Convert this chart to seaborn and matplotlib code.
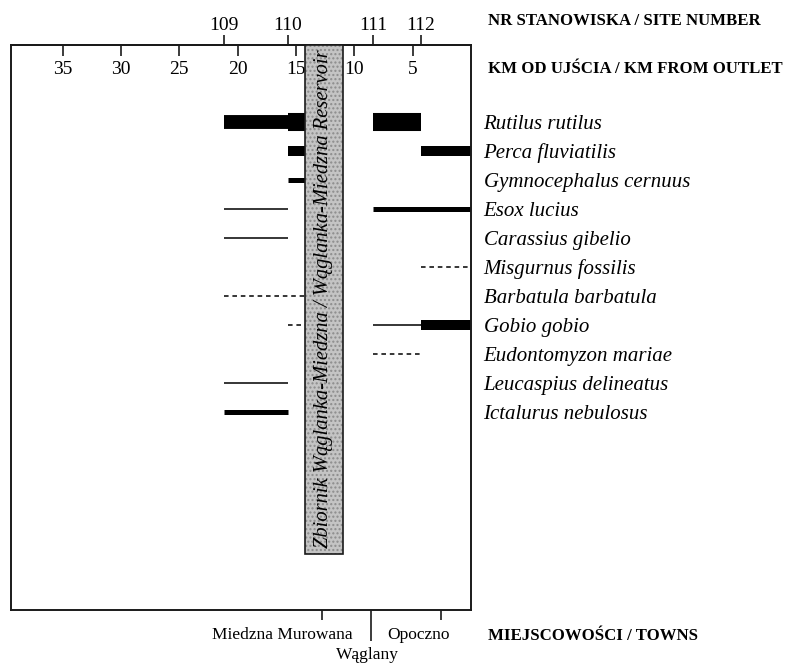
import pandas as pd
import matplotlib
matplotlib.use("Agg")
import matplotlib.pyplot as plt
import matplotlib.transforms as mtransforms
from matplotlib.patches import Rectangle
import seaborn as sns

# Fish species, listed top to bottom
species = ["Rutilus rutilus", "Perca fluviatilis", "Gymnocephalus cernuus",
           "Esox lucius", "Carassius gibelio", "Misgurnus fossilis",
           "Barbatula barbatula", "Gobio gobio", "Eudontomyzon mariae",
           "Leucaspius delineatus", "Ictalurus nebulosus"]

# River kilometre scale (distance from outlet)
km_ticks = [35, 30, 25, 20, 15, 10, 5]
km_range = (39.42, 0.0)

# Sampling sites and their river km
site_numbers = ["109", "110", "111", "112"]
site_km = [21.2, 15.7, 8.4, 4.3]

# Reservoir extent along the river (upstream edge, downstream edge)
reservoir_km = [14.26, 10.94]
reservoir_name = "Zbiornik Wąglanka-Miedzna / Wąglanka-Miedzna Reservoir"

# Towns along the river
towns = ["Miedzna Murowana", "Wąglany", "Opoczno"]
town_km = [12.8, 8.6, 2.6]

# Stretch end points: sites, reservoir dam edge, river outlet
stretch_points = {"109": 21.2, "110": 15.7, "res": 14.26,
                  "111": 8.4, "112": 4.3, "mouth": 0.0}

# Occurrence stretches: species, upstream point, downstream point, abundance class
seg_species = ["Rutilus rutilus", "Rutilus rutilus", "Rutilus rutilus",
               "Perca fluviatilis", "Perca fluviatilis",
               "Gymnocephalus cernuus",
               "Esox lucius", "Esox lucius",
               "Carassius gibelio",
               "Misgurnus fossilis",
               "Barbatula barbatula",
               "Gobio gobio", "Gobio gobio", "Gobio gobio",
               "Eudontomyzon mariae",
               "Leucaspius delineatus",
               "Ictalurus nebulosus"]
seg_from = ["109", "110", "111",
            "110", "112",
            "110",
            "109", "111",
            "109",
            "112",
            "109",
            "110", "111", "112",
            "111",
            "109",
            "109"]
seg_to = ["110", "res", "112",
          "res", "mouth",
          "res",
          "110", "mouth",
          "110",
          "mouth",
          "res",
          "res", "112", "mouth",
          "112",
          "110",
          "110"]
seg_class = ["common", "abundant", "abundant",
             "frequent", "frequent",
             "scarce",
             "rare", "scarce",
             "rare",
             "sporadic",
             "sporadic",
             "sporadic", "rare", "frequent",
             "sporadic",
             "rare",
             "scarce"]

# Line width (pt) and dash style for each abundance class
class_width = {"sporadic": 1.1, "rare": 1.1, "scarce": 3.6,
               "frequent": 7.2, "common": 10.0, "abundant": 13.0}
class_dash = {"sporadic": (3, 2.5), "rare": "", "scarce": "",
              "frequent": "", "common": "", "abundant": ""}

rows = []
for i, (sp, a, b, c) in enumerate(zip(seg_species, seg_from, seg_to, seg_class)):
    r = species.index(sp)
    rows.append({"seg": i, "km": stretch_points[a], "row": r, "cls": c})
    rows.append({"seg": i, "km": stretch_points[b], "row": r, "cls": c})
df = pd.DataFrame(rows)

sns.set_theme(style="white")
plt.rcParams["font.family"] = ["Liberation Serif", "DejaVu Serif"]
plt.rcParams["text.color"] = "black"
plt.rcParams["xtick.labelcolor"] = "black"
plt.rcParams["ytick.labelcolor"] = "black"

fig = plt.figure(figsize=(7.88, 6.63), dpi=100)
ax = fig.add_axes([11 / 788, 53 / 663, 460 / 788, 565 / 663])

sns.lineplot(data=df, x="km", y="row", units="seg", estimator=None, sort=False,
             size="cls", sizes=class_width, style="cls", dashes=class_dash,
             color="black", legend=False, ax=ax,
             solid_capstyle="butt", dash_capstyle="butt", zorder=2)

ax.set_xlim(*km_range)
ax.set_ylim(16.84, -2.645)
ax.set_xlabel("")
ax.set_ylabel("")

for s in ax.spines.values():
    s.set_visible(True)
    s.set_linewidth(1.4)
    s.set_color("#1a1a1a")

# km scale: ticks inside the top edge, labels below them
ax.set_xticks(km_ticks, labels=[str(k) for k in km_ticks])
ax.xaxis.set_ticks_position("top")
ax.tick_params(axis="x", direction="in", length=8, width=1.2, color="#1a1a1a",
               labelsize=14, labelcolor="black", pad=-24, top=True, bottom=False)

# species names on the right
ax.set_yticks(range(len(species)), labels=species)
ax.yaxis.tick_right()
ax.tick_params(axis="y", length=0, pad=9, labelsize=15, labelcolor="black")
for lab in ax.get_yticklabels():
    lab.set_fontstyle("italic")

# site numbers above the top edge
sec_site = ax.secondary_xaxis("top")
sec_site.set_xticks(site_km, labels=site_numbers)
sec_site.tick_params(direction="out", length=7.2, width=1.2, color="#1a1a1a",
                     labelsize=14, labelcolor="black", pad=1)
sec_site.spines["top"].set_linewidth(1.4)
sec_site.spines["top"].set_color("#1a1a1a")

# town ticks below the bottom edge
sec_town = ax.secondary_xaxis("bottom")
sec_town.set_xticks([town_km[0], town_km[2]], labels=["", ""])
sec_town.tick_params(direction="out", length=7.5, width=1.2, color="#1a1a1a")
sec_town.spines["bottom"].set_visible(False)
sec_town2 = ax.secondary_xaxis("bottom")
sec_town2.set_xticks([town_km[1]], labels=[""])
sec_town2.tick_params(direction="out", length=22, width=1.2, color="#1a1a1a")
sec_town2.spines["bottom"].set_visible(False)

trans = mtransforms.blended_transform_factory(ax.transData, ax.transAxes)
ax.text(16.15, -0.044, towns[0], transform=trans, ha="center", va="center",
        fontsize=12.5, clip_on=False)
ax.text(8.86, -0.080, towns[1], transform=trans, ha="center", va="center",
        fontsize=12.5, clip_on=False)
ax.text(4.46, -0.044, towns[2], transform=trans, ha="center", va="center",
        fontsize=12.5, clip_on=False)

# reservoir band
res = Rectangle((reservoir_km[0], -2.645), reservoir_km[1] - reservoir_km[0],
                14.92 + 2.645, facecolor="#c4c4c4", edgecolor="#8c8c8c",
                hatch="....", linewidth=0, zorder=3)
ax.add_patch(res)
ax.add_patch(Rectangle((reservoir_km[0], -2.645), reservoir_km[1] - reservoir_km[0],
                       14.92 + 2.645, fill=False, edgecolor="#1a1a1a",
                       linewidth=1.2, zorder=4))
ax.text(sum(reservoir_km) / 2, 6.1, reservoir_name, rotation=90, ha="center",
        va="center", fontsize=14.8, fontstyle="italic", color="black", zorder=5)

# axis captions on the right
fig.text(488 / 788, 1 - 21 / 663, "NR STANOWISKA / SITE NUMBER",
         fontsize=12.1, fontweight="bold", va="center")
fig.text(488 / 788, 1 - 69 / 663, "KM OD UJŚCIA / KM FROM OUTLET",
         fontsize=12.1, fontweight="bold", va="center")
fig.text(488 / 788, 1 - 636 / 663, "MIEJSCOWOŚCI / TOWNS",
         fontsize=12.1, fontweight="bold", va="center")

fig.savefig("out.png", dpi=100)
